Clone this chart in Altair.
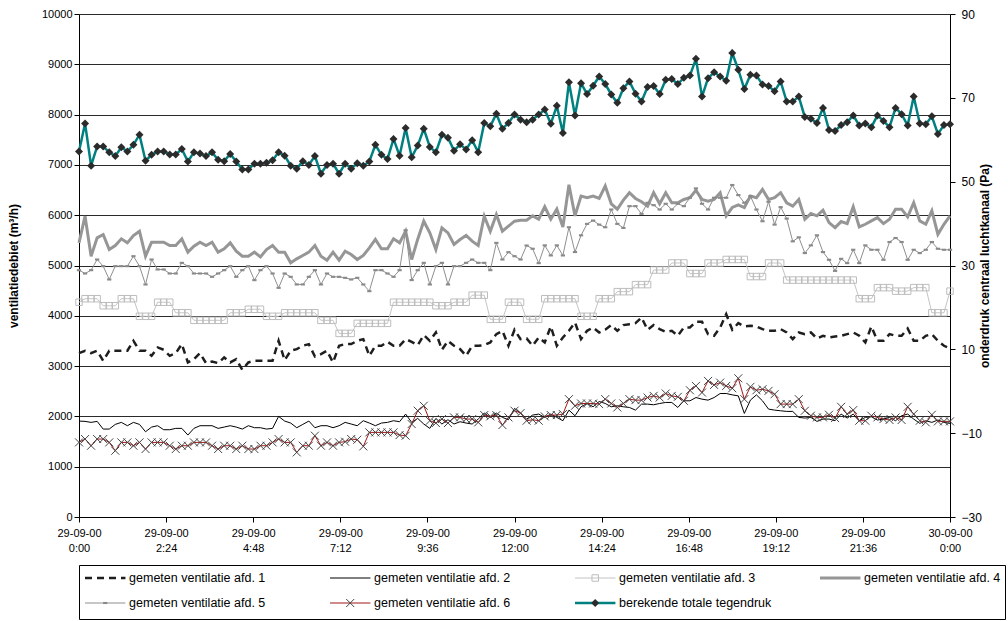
import altair as alt
import pandas as pd

N = 145
start = "2000-09-29 00:00"

afd1 = [3258, 3305, 3258, 3305, 3106, 3305, 3305, 3305, 3305, 3503, 3305, 3305, 3205, 3371, 3325, 3205,
        3258, 3437, 3073, 3139, 3258, 3060, 3093, 3060, 3172, 3073, 3139, 2927, 3073, 3106, 3106, 3106,
        3106, 3503, 3119, 3305, 3338, 3404, 3437, 3192, 3238, 3305, 3073, 3404,
        3437, 3437, 3503, 3536, 3205, 3404, 3404, 3483, 3404, 3404, 3536, 3483, 3417, 3616, 3503, 3669,
        3325, 3503, 3404, 3338, 3205, 3404, 3404, 3417, 3470, 3636, 3702, 3404, 3722, 3536, 3550, 3404,
        3570, 3470, 3788, 3404, 3570, 3702, 3868, 3536, 3702, 3768, 3669, 3722, 3815, 3702, 3815,
        3834, 3854, 3967, 3722, 3815, 3735, 3682, 3702, 3603, 3768, 3768, 3881, 3881, 3636, 3603, 3768,
        4033, 3722, 3854, 3788, 3801, 3788, 3735, 3702, 3702, 3735, 3669, 3536, 3669, 3636, 3669, 3550,
        3603, 3570, 3589, 3603, 3636, 3669, 3603, 3470, 3788, 3503, 3503, 3636, 3603, 3603, 3748, 3503,
        3503, 3603, 3636, 3503, 3404, 3351]

afd2 = [1907, 1901, 1881, 1901, 1748, 1748, 1841, 1881, 1815, 1881, 1841, 1695, 1788, 1815, 1735, 1735,
        1762, 1762, 1629, 1762, 1815, 1815, 1815, 1762, 1788, 1815, 1788, 1748, 1815, 1775, 1775, 1748,
        1762, 2000, 1907, 1868, 1775, 1841, 1907, 1775, 1815, 1815, 1775,
        1815, 1881, 1848, 1815, 1914, 1868, 1815, 1868, 1881, 1914, 1894, 2046, 1881, 1960, 1848, 1762,
        1960, 1848, 1934, 1848, 1894, 1868, 1848, 1947, 2066, 1980, 2066, 1980, 1934, 2159, 2066, 1947,
        2026, 2046, 1980, 2046, 1980,
        1914, 2125, 2013, 2191, 2257, 2191, 2296, 2257, 2191, 2211, 2191, 2178, 2125, 2244, 2244, 2231,
        2257, 2277, 2277, 2178, 2310, 2310, 2375, 2343, 2323, 2375, 2455, 2455, 2428, 2408, 2059, 2323,
        2428, 2310, 2145, 2125, 2112, 2099, 2099, 1980, 1967, 1980, 1901, 1947, 1947, 1914, 2046, 1967,
        2046, 1914, 1980, 1993, 1928, 1947, 1980, 1914, 2013, 2046, 1947, 1862, 1914, 1881, 1928, 1881,
        1862]

afd3 = [4270, 4340, 4340, 4340, 4200, 4200, 4200, 4340, 4340, 4340, 3990, 3990, 3990, 4270, 4270, 4270,
        4060, 4060, 4060, 3910, 3910, 3910, 3910, 3910, 3910, 4060, 4060, 4060, 4130, 4130, 4130, 3990,
        3990, 3990, 4060, 4060, 4060, 4060, 4060, 4060, 3910, 3910, 3910, 3650, 3650, 3650, 3850, 3850,
        3850, 3850, 3850, 3850, 4270, 4270, 4270, 4270, 4270, 4270, 4270, 4200, 4200, 4200, 4270, 4270,
        4270, 4410, 4410, 4410, 3930, 3930, 3930, 4270, 4270, 4270, 3930, 3930, 3930, 4340, 4340, 4340,
        4340, 4340, 4340, 3990, 3990, 3990, 4340, 4340, 4340, 4480, 4480, 4480, 4620, 4620, 4620, 4910,
        4910, 4910, 5050, 5050, 5050, 4840, 4840, 4840, 5050, 5050, 5050, 5120, 5120, 5120, 5120, 4780,
        4780, 4780, 5050, 5050, 5050, 4710, 4710, 4710, 4710, 4710, 4710, 4710, 4710, 4710, 4710, 4710,
        4710, 4340, 4340, 4340, 4560, 4560, 4560, 4490, 4490, 4490, 4560, 4560, 4560, 4060, 4060, 4060,
        4490]

afd4 = [5450, 5980, 5185, 5550, 5616, 5318, 5397, 5530, 5450, 5596, 5682, 5185, 5464, 5464, 5464, 5397,
        5397, 5530, 5265, 5384, 5464, 5397, 5464, 5265, 5331, 5450, 5285, 5185, 5185, 5265, 5172, 5318,
        5397, 5265, 5265, 5053, 5132, 5199, 5265, 5397, 5185, 5106, 5265, 5106,
        5285, 5219, 5119, 5199, 5351, 5517, 5331, 5331, 5530, 5450, 5682, 5119, 5523, 5881, 5649, 5318,
        5748, 5649, 5417, 5517, 5596, 5483, 5397, 5980, 5682, 6013, 5682, 5781, 5881, 5901, 5901,
        5987, 5920, 6167, 5920, 6120, 5767, 6607, 5987, 6380, 6347, 6380, 6333, 6580, 6227, 6120, 6300,
        6447, 6333, 6267, 6180, 6447, 6227, 6447, 6247, 6247, 6313, 6347, 6493, 6313, 6280, 6313, 6447,
        5987, 6153, 6207, 6153, 6380, 6347, 6513, 6313, 6347, 6447, 6247, 6180, 6313, 5920, 6033, 5987,
        6100, 5853, 5753, 5873, 5833, 6167, 5767, 5820, 5887, 5953, 5833, 5920, 6120, 6120, 5967, 6247,
        5887, 5820, 6087, 5620, 5820, 5987]

afd5 = [4907, 4841, 4907, 5119, 4987, 4722, 4987, 4987, 4987, 5185, 4987, 4623, 5119, 4921, 4921, 4841,
        4841, 5053, 4987, 4841, 4841, 4841, 4775, 4841, 4907, 4987, 4775, 4907, 4987, 4709, 4907, 4987,
        4841, 4556, 4841, 4775, 4623, 4623, 4775, 4907, 4623, 4841, 4775, 4775,
        4755, 4722, 4755, 4623, 4490, 4907, 4907, 4841, 4775, 4907, 5700, 4710, 4907, 5053, 4623, 4987,
        5053, 4623, 4987, 4987, 5053, 5119, 5053, 5053, 4907, 5450, 5119, 5265, 5185, 5119, 5397,
        5333, 5047, 5400, 5200, 5400, 5200, 5760, 5267, 5600, 5827, 5893, 5813, 5760, 6113, 5827, 5747,
        6180, 6180, 6027, 6247, 6200, 6113, 6227, 6113, 6227, 6180, 6347, 6533, 6227, 6113, 6347, 6347,
        6347, 6600, 6400, 6247, 6380, 6113, 5880, 6267, 5813, 6160, 5933, 5480, 5560, 5247, 5400, 5600,
        5267, 5113, 4893, 5133, 5047, 5313, 5047, 5400, 5313, 5313, 5113, 5467, 5547, 5467, 5113, 5313,
        5247, 5313, 5467, 5333, 5313, 5313]

afd6 = [1483, 1550, 1417, 1550, 1550, 1483, 1318, 1483, 1483, 1417, 1483, 1351, 1483, 1483, 1483, 1417,
        1351, 1417, 1417, 1483, 1483, 1483, 1417, 1351, 1417, 1417, 1351, 1417, 1351, 1351, 1417, 1417,
        1483, 1550, 1483, 1483, 1285, 1417, 1417, 1616, 1417, 1483, 1417,
        1483, 1497, 1550, 1536, 1404, 1682, 1682, 1682, 1682, 1682, 1629, 1616, 1848, 2113, 2212, 1914,
        1868, 1947, 1868, 1980, 1980, 1947, 1947, 1881, 2026, 2000, 2026, 1828, 1980, 2113, 2066, 1914,
        1934, 1914, 2000, 2026, 2026,
        2046, 2343, 2211, 2257, 2257, 2257, 2244, 2343, 2257, 2178, 2257, 2343, 2323, 2323, 2375, 2408,
        2375, 2455, 2408, 2389, 2310, 2520, 2606, 2474, 2705, 2626, 2672, 2606, 2560, 2758, 2343, 2587,
        2520, 2540, 2507, 2441, 2244, 2244, 2244, 2343, 2112, 2013, 1980, 1980, 2033, 1967, 2191, 2046,
        2125, 1914, 1914, 2013, 1980, 1947, 1928, 1980, 1928, 2191, 2046, 1914, 1881, 2033, 1901, 1901,
        1901]

tegendruk = [57.2, 63.9, 53.8, 58.4, 58.4, 57.0, 56.1, 58.2, 57.2, 58.8,
             61.2, 55.0, 56.4, 57.2, 57.2, 56.5, 56.5, 57.8, 54.8, 57.0,
             56.7, 56.1, 57.0, 55.2, 54.9, 56.6, 54.8, 52.9, 52.9, 54.3,
             54.3, 54.5, 55.1, 57.0, 56.2, 53.8, 53.1, 54.9, 54.0, 56.1,
             51.9, 54.0, 54.3, 51.9, 54.3, 53.1, 54.4, 53.8, 54.8, 58.8,
             56.4, 55.4, 60.2, 56.2, 62.8, 55.8, 58.6, 62.6, 58.3, 57.0,
             61.2, 60.5, 57.4, 58.9, 57.7, 59.9, 57.0, 64.0, 63.2, 66.2,
             62.6, 64.0, 66.0, 64.8, 64.2, 64.8, 66.0, 67.2, 63.8, 68.1,
             61.6, 73.7, 65.8, 73.5, 70.9, 72.9, 75.1, 73.3, 70.8, 68.8,
             72.3, 73.9, 71.0, 69.1, 72.6, 72.8, 70.9, 74.3, 74.5, 73.3,
             74.8, 75.3, 79.3, 70.3, 74.7, 76.1, 75.1, 74.1, 80.7, 76.7,
             72.1, 75.5, 75.3, 73.2, 72.8, 71.6, 73.9, 69.1, 69.1, 70.3,
             65.4, 65.0, 64.0, 67.6, 62.3, 62.1, 63.5, 64.2, 65.8, 63.4,
             63.9, 63.0, 65.8, 64.5, 63.0, 67.6, 66.1, 63.4, 70.3, 63.9,
             63.7, 65.6, 61.4, 63.5, 63.7]

names = ["gemeten ventilatie afd. 1", "gemeten ventilatie afd. 2", "gemeten ventilatie afd. 3",
         "gemeten ventilatie afd. 4", "gemeten ventilatie afd. 5", "gemeten ventilatie afd. 6",
         "berekende totale tegendruk"]

left_title = "ventilatiedebiet (m³/h)"
right_title = "onderdruk centraal luchtkanaal (Pa)"
left_ticks = [0, 1000, 2000, 3000, 4000, 5000, 6000, 7000, 8000, 9000, 10000]
right_ticks = [-30, -10, 10, 30, 50, 70, 90]

# ---------------------------------------------------------------
FONT = "Liberation Sans"
X_PATH = "M-1,-1L1,1M-1,1L1,-1"
BAR_PATH = "M-1,-0.5H1V0.5H-1Z"

styles = [
    dict(color="#1e1e1e", width=2.5, dash=[7, 5]),
    dict(color="#000000", width=1),
    dict(color="#c4c4c4", width=1, shape="square", size=42, filled=False, mcolor="#bdbdbd"),
    dict(color="#969696", width=3),
    dict(color="#8f8f8f", width=1, shape=BAR_PATH, size=18, filled=True, mcolor="#8a8a8a"),
    dict(color="#a01818", width=1, shape=X_PATH, size=64, filled=False, mcolor="#454545"),
    dict(color="#008080", width=2.5, shape="diamond", size=64, filled=True, mcolor="#2b2b2b"),
]

times = pd.date_range(start, periods=N, freq="10min")

tick_dt = []
for k in range(11):
    total = 144 * k
    tick_dt.append(alt.DateTime(year=2000, month=9, date=29 + total // 1440,
                                hours=(total % 1440) // 60, minutes=total % 60))

x_enc = alt.X(
    "t:T", title=None,
    scale=alt.Scale(domain=[alt.DateTime(year=2000, month=9, date=29, hours=0),
                            alt.DateTime(year=2000, month=9, date=30, hours=0)], nice=False),
    axis=alt.Axis(values=tick_dt,
                  labelExpr="[timeFormat(datum.value, '%d-%m-%y'), timeFormat(datum.value, '%-H:%M')]",
                  grid=False, tickSize=5, labelPadding=5, labelFontSize=11, labelLineHeight=15,
                  labelAngle=0, labelOverlap=False, labelFlush=False, domainColor="#000",
                  tickColor="#000", labelColor="#000"),
)

y_left = alt.Y(
    "v:Q",
    scale=alt.Scale(domain=[0, 10000], nice=False, zero=False),
    axis=alt.Axis(values=left_ticks, format="d", title=left_title, grid=True, gridColor="#2a2a2a",
                  gridWidth=1, tickSize=5, labelPadding=2, titlePadding=21, labelFontSize=11,
                  titleFontSize=12, titleFontWeight="bold", domainColor="#000", tickColor="#000",
                  titleColor="#000", labelColor="#000"),
)

y_right = alt.Y(
    "pa:Q",
    scale=alt.Scale(domain=[-30, 90], nice=False, zero=False),
    axis=alt.Axis(orient="right", values=right_ticks, format="d", title=right_title, grid=False,
                  tickSize=5, labelPadding=6, titlePadding=10, titleAngle=270, labelFontSize=12,
                  titleFontSize=12, titleFontWeight="bold", domainColor="#000", tickColor="#000",
                  titleColor="#000", labelColor="#000"),
)

left_values = [afd1, afd2, afd3, afd4, afd5, afd6]
left_layers = []
for i, vals in enumerate(left_values):
    st = styles[i]
    d = pd.DataFrame({"t": times, "v": vals})
    kw = dict(color=st["color"], strokeWidth=st["width"])
    if "dash" in st:
        kw["strokeDash"] = st["dash"]
    left_layers.append(alt.Chart(d).mark_line(**kw).encode(x=x_enc, y=y_left))
    if "shape" in st:
        left_layers.append(
            alt.Chart(d).mark_point(shape=st["shape"], size=st["size"], filled=st["filled"],
                                    color=st["mcolor"], opacity=1, strokeWidth=1)
            .encode(x=x_enc, y=y_left))

st7 = styles[6]
d7 = pd.DataFrame({"t": times, "pa": tegendruk})
right_layers = [
    alt.Chart(d7).mark_line(color=st7["color"], strokeWidth=st7["width"]).encode(x=x_enc, y=y_right),
    alt.Chart(d7).mark_point(shape=st7["shape"], size=st7["size"], filled=True, color=st7["mcolor"],
                             opacity=1).encode(x=x_enc, y=y_right),
]

main = alt.layer(alt.layer(*left_layers), alt.layer(*right_layers)).resolve_scale(
    y="independent").properties(width=871, height=503)

# ----------------------- legend panel --------------------------
LEG_W = 926
leg_df = pd.DataFrame({"serie": names, "k": list(range(len(names)))})
lx = alt.Scale(domain=[-0.0245, -0.0245 + LEG_W / 245.0], nice=False, zero=False)
ly = alt.Scale(domain=[-0.52, 1.64], nice=False, zero=False, reverse=True)
leg_base = alt.Chart(leg_df).transform_calculate(
    col="datum.k % 4", row="floor(datum.k / 4)",
    x1="datum.col", x2="datum.col + 0.165", xm="datum.col + 0.0825", xt="datum.col + 0.18")

leg_layers = []
for i, name in enumerate(names):
    st = styles[i]
    b = leg_base.transform_filter(alt.datum.serie == name)
    kw = dict(color=st["color"], strokeWidth=st["width"])
    if "dash" in st:
        kw["strokeDash"] = st["dash"]
    leg_layers.append(b.mark_rule(**kw).encode(
        x=alt.X("x1:Q", scale=lx, axis=None), x2="x2:Q",
        y=alt.Y("row:Q", scale=ly, axis=None)))
    if "shape" in st:
        leg_layers.append(b.mark_point(shape=st["shape"], size=st["size"], filled=st["filled"],
                                       color=st["mcolor"], opacity=1, strokeWidth=1).encode(
            x=alt.X("xm:Q", scale=lx, axis=None), y=alt.Y("row:Q", scale=ly, axis=None)))
leg_layers.append(leg_base.mark_text(align="left", baseline="middle", fontSize=12.5, color="#000",
                                     font=FONT).encode(
    x=alt.X("xt:Q", scale=lx, axis=None), y=alt.Y("row:Q", scale=ly, axis=None), text="serie:N"))

legend = alt.layer(*leg_layers).properties(
    width=LEG_W, height=54, view=alt.ViewBackground(stroke="#000", strokeWidth=1))

chart = alt.vconcat(main, legend, spacing=11).properties(
    padding={"left": 7, "top": 8, "right": 2, "bottom": 0}
).configure(font=FONT).configure_view(stroke=None).configure_axis(labelFont=FONT, titleFont=FONT)

chart.save("out.html", embed_options={"renderer": "svg", "actions": False})
